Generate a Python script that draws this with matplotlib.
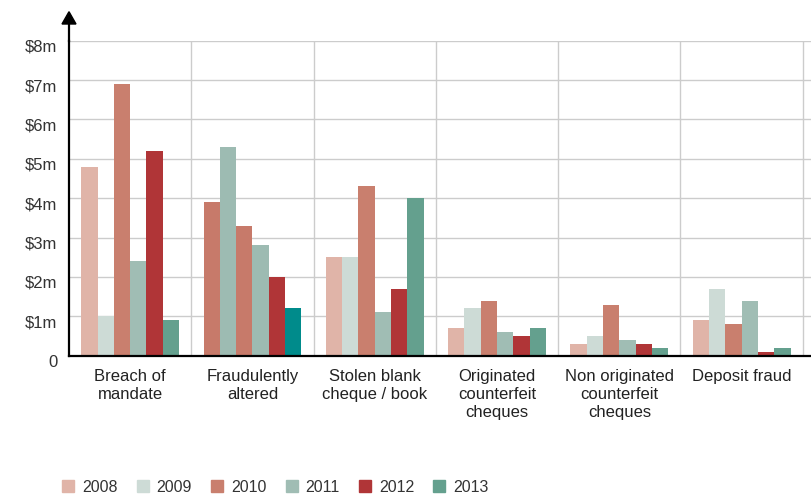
import matplotlib
matplotlib.use("Agg")
import matplotlib.pyplot as plt
import matplotlib.transforms as mtransforms
from matplotlib.patches import Patch, Polygon
import numpy as np

plt.rcParams['font.family'] = ['Liberation Sans', 'DejaVu Sans']

# Cheque fraud losses by type, $m
categories = ['Breach of\nmandate', 'Fraudulently\naltered', 'Stolen blank\ncheque / book',
              'Originated\ncounterfeit\ncheques', 'Non originated\ncounterfeit\ncheques',
              'Deposit fraud']
years = ['2008', '2009', '2010', '2011', '2012', '2013']

losses_2008 = [4.8, 3.9, 2.5, 0.7, 0.3, 0.9]
losses_2009 = [1.0, 5.3, 2.5, 1.2, 0.5, 1.7]
losses_2010 = [6.9, 3.3, 4.3, 1.4, 1.3, 0.8]
losses_2011 = [2.4, 2.8, 1.1, 0.6, 0.4, 1.4]
losses_2012 = [5.2, 2.0, 1.7, 0.5, 0.3, 0.1]
losses_2013 = [0.9, 1.2, 4.0, 0.7, 0.2, 0.2]
series = [losses_2008, losses_2009, losses_2010, losses_2011, losses_2012, losses_2013]

year_colours = ['#e0b4a8', '#cddbd6', '#c97f6e', '#a0bdb4', '#b03537', '#64a08e']
# the "Fraudulently altered" group was coloured differently in the original report
altered_colours = ['#c77a6a', '#9dbbb2', '#c77a6a', '#9dbbb2', '#b03537', '#008b8b']

fig = plt.figure(figsize=(8.12, 4.95), dpi=100)
ax = fig.add_axes([69 / 812, 139.3 / 495, 743 / 812, 315 / 495])

x = np.arange(len(categories))
width = 0.1333
for j, vals in enumerate(series):
    cols = [year_colours[j]] * len(categories)
    cols[1] = altered_colours[j]
    ax.bar(x + (j - 2.5) * width, vals, width, color=cols, zorder=3, linewidth=0)

ax.set_xlim(-0.5, -0.5 + 743 / 122.3)
ax.set_ylim(0, 8)

# grid
for y in range(1, 9):
    ax.axhline(y, color='#cccccc', lw=1.0, zorder=1)
for k in range(1, 7):
    ax.axvline(-0.5 + k, color='#cccccc', lw=1.0, zorder=1)

for s in ['top', 'right']:
    ax.spines[s].set_visible(False)
ax.spines['bottom'].set_linewidth(1.6)
ax.spines['bottom'].set_zorder(4)
ax.spines['left'].set_linewidth(1.6)

# y axis arrow
ax.plot([0, 0], [1, 1.055], transform=ax.transAxes, color='black', lw=1.6, clip_on=False)
hw = 7 / 743
ax.add_patch(Polygon([(-hw, 1.053), (hw, 1.053), (0, 1.092)], closed=True,
                     transform=ax.transAxes, color='black', clip_on=False))

ax.set_yticks(range(0, 9))
ax.set_yticklabels(['0'] + ['$%dm' % v for v in range(1, 9)])
ax.set_xticks(x)
ax.set_xticklabels(categories, linespacing=1.25)
ax.tick_params(axis='y', length=0, pad=8.5, labelsize=12, labelcolor='#333333')
ax.tick_params(axis='x', length=0, pad=9.5, labelsize=12, labelcolor='#222222')

shift = mtransforms.ScaledTranslation(0, -5 / 100, fig.dpi_scale_trans)
for lbl in ax.get_yticklabels():
    lbl.set_transform(lbl.get_transform() + shift)

handles = [Patch(color=c, label=y) for c, y in zip(year_colours, years)]
leg = fig.legend(handles=handles, loc='center left', bbox_to_anchor=(62 / 812, 1 - 487 / 495),
                 ncol=6, frameon=False, fontsize=11.5, handlelength=0.75, handleheight=0.75,
                 handletextpad=0.5, columnspacing=1.2, borderpad=0, borderaxespad=0)
for t in leg.get_texts():
    t.set_color('#333333')

fig.savefig('out.png', dpi=100)
